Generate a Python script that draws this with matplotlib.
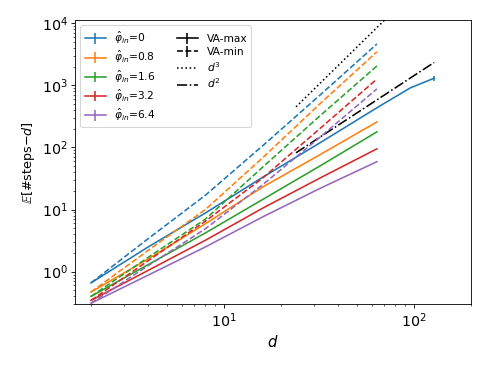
import numpy as np
import matplotlib
matplotlib.use('Agg')
import matplotlib.pyplot as plt

# problem sizes
d = [2, 4, 8, 16, 32, 64]
d_long = [2, 4, 8, 16, 32, 64, 96, 128]
phis = ['0', '0.8', '1.6', '3.2', '6.4']

# VA-max (solid)
va_max = [
    [0.66, 2.5, 8.8, 33, 118, 435, 910, 1300],
    [0.47, 1.6, 5.9, 23, 76, 257],
    [0.40, 1.3, 4.2, 14.5, 50, 178],
    [0.345, 1.05, 3.2, 10.5, 32, 95],
    [0.31, 0.88, 2.5, 7.6, 21.8, 59],
]
va_max_err = [
    [0, 0, 0, 0, 0, 0, 0, 130],
    [0, 0, 0, 0, 0, 0],
    [0, 0, 0, 0, 0, 0],
    [0, 0, 0, 0, 0, 0],
    [0, 0, 0, 0, 0, 0],
]
# VA-min (dashed)
va_min = [
    [0.66, 3.4, 17, 106, 690, 4630],
    [0.47, 2.2, 10, 68, 500, 3460],
    [0.40, 1.7, 7.0, 48, 320, 2050],
    [0.345, 1.5, 6.5, 32, 200, 1260],
    [0.31, 1.25, 4.9, 25, 145, 875],
]

# reference slopes
ref_d = [24, 128]
ref_d3 = [450, 68000]
ref_d2 = [82, 2330]

colors = ['tab:blue', 'tab:orange', 'tab:green', 'tab:red', 'tab:purple']

fig = plt.figure(figsize=(6.4, 4.8), dpi=76.25)
ax = fig.add_subplot(111)
fig.subplots_adjust(left=0.154, right=0.965, bottom=0.169, top=0.945)

handles = []
for i in range(5):
    x = d_long if i == 0 else d
    h = ax.errorbar(x, va_max[i], yerr=va_max_err[i], color=colors[i],
                    label=r'$\hat{\varphi}_{in}$=' + phis[i])
    handles.append(h)
    ax.errorbar(d, va_min[i], yerr=np.zeros(len(d)), color=colors[i], ls='--')

ax.plot(ref_d, ref_d3, 'k:')
ax.plot(ref_d, ref_d2, 'k-.')

# legend entries for the styles
h_max = ax.errorbar([], [], yerr=[], color='k', label='VA-max')
h_min = ax.errorbar([], [], yerr=[], color='k', ls='--', label='VA-min')
h_d3, = ax.plot([], [], 'k:', label='$d^3$')
h_d2, = ax.plot([], [], 'k-.', label='$d^2$')
handles += [h_max, h_min, h_d3, h_d2]

ax.set_xscale('log')
ax.set_yscale('log')
ax.set_xlim(1.65, 200)
ax.set_ylim(0.3, 1.12e4)
ax.tick_params(labelsize=13.5)
ax.set_xlabel('$d$', fontsize=14)
ax.set_ylabel(r'$\mathbb{E}$[#steps$-d$]', fontsize=12)
ax.legend(handles=handles, ncol=2, loc='upper left', fontsize=10,
          labelspacing=0.28)

fig.savefig('out.png', dpi=76.25)
